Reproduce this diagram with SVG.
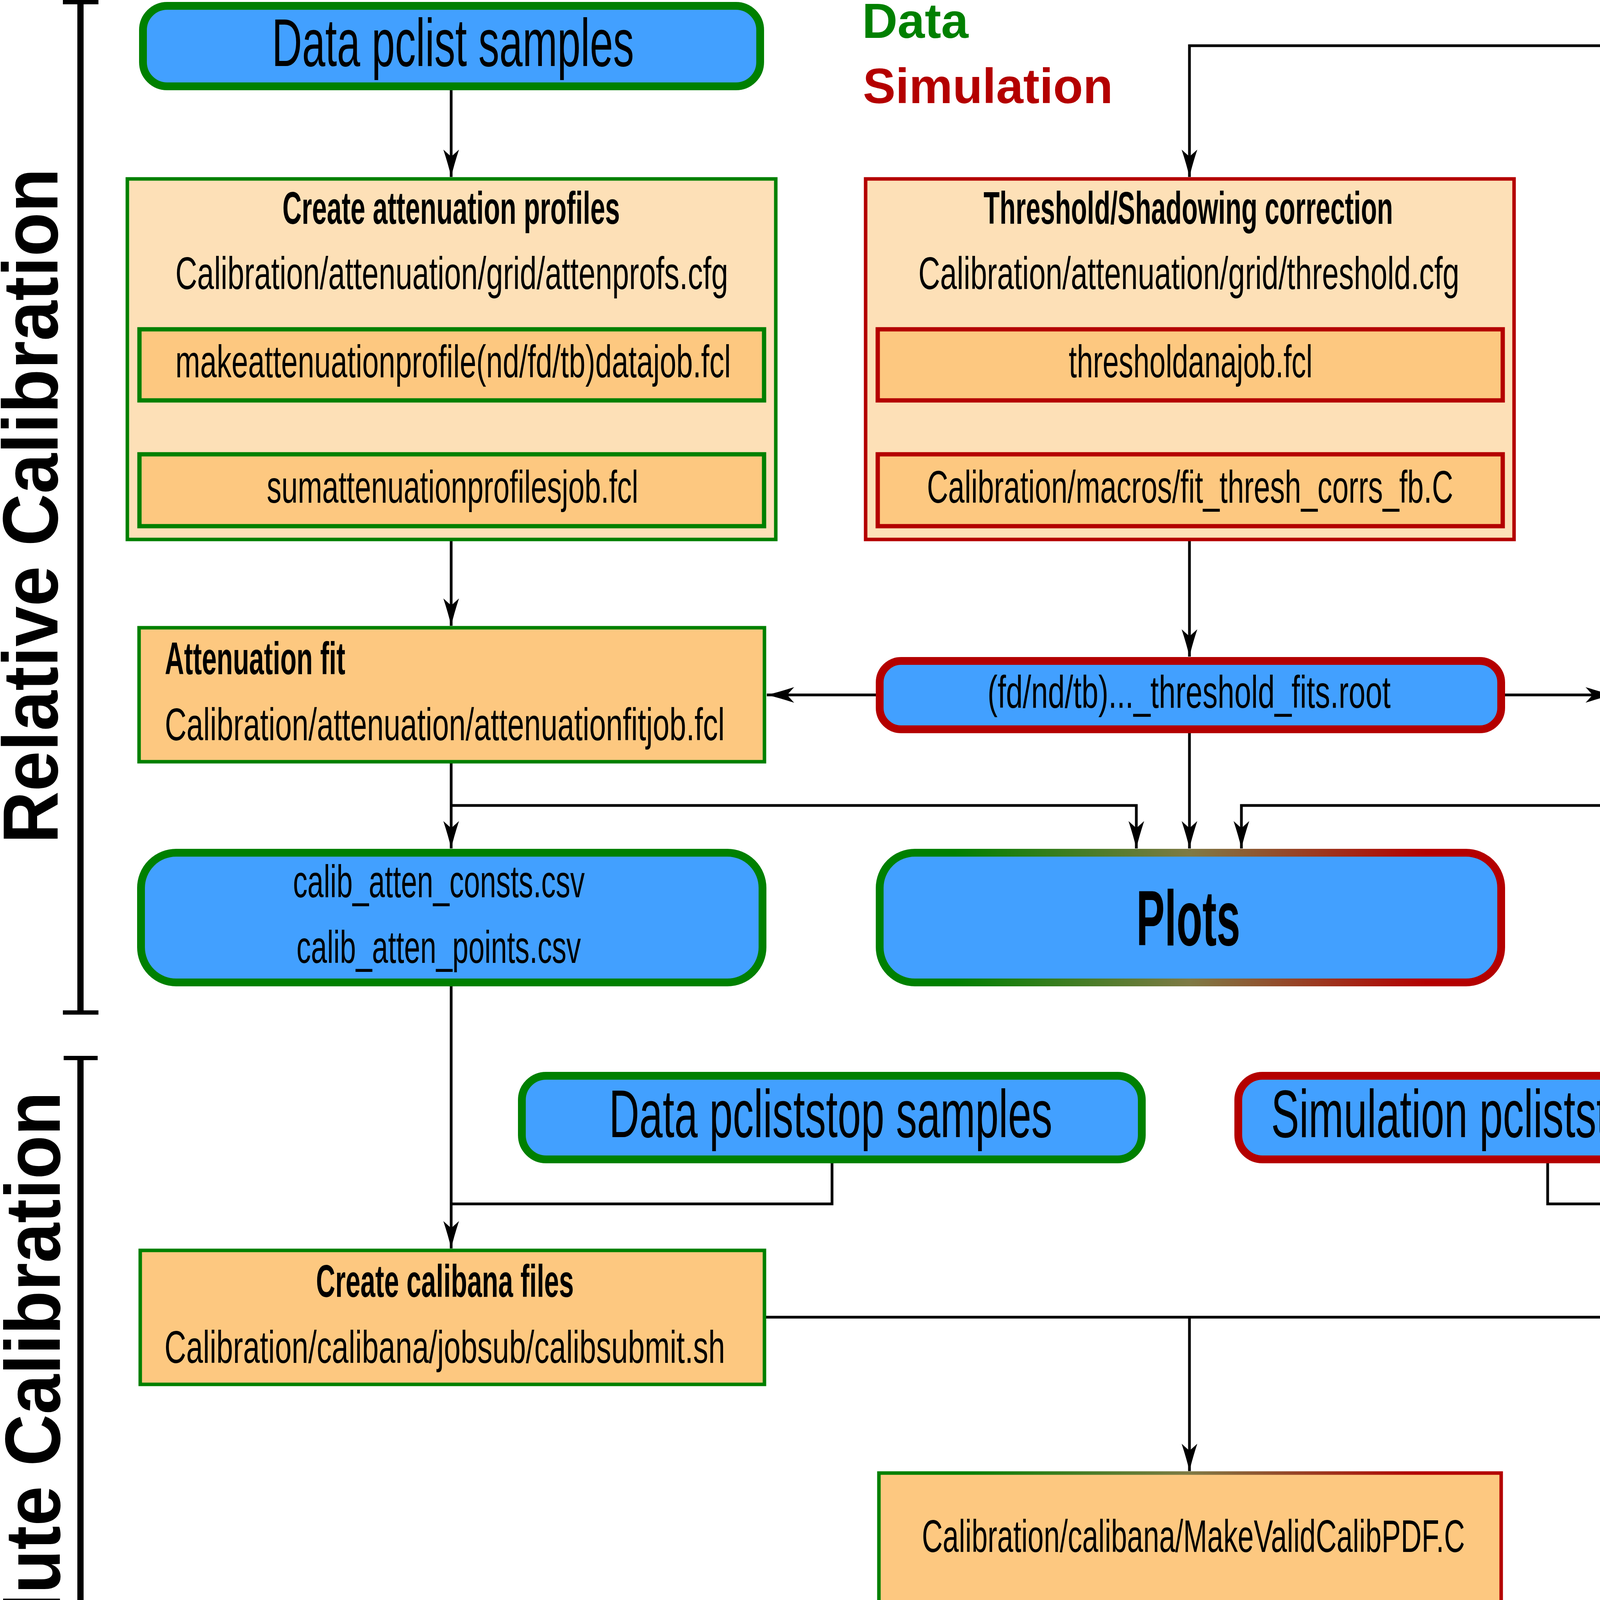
<svg xmlns="http://www.w3.org/2000/svg" width="5773" height="4693" viewBox="0 0 5773 4693">
<style>
.t{font-family:'Liberation Sans Narrow','Liberation Sans',Arial,sans-serif;fill:#000}
.big{font-size:172px}
.mid{font-size:117px}
.huge{font-size:200px;font-weight:bold}
.bb{font-weight:bold}
.conn{fill:none;stroke:#000;stroke-width:7}
.blue{fill:#42A0FF}
.pale{fill:#FDE0B7}
.orange{fill:#FDC880}
.g{stroke:#008000}
.r{stroke:#B40000}
.thick{stroke-width:20}
.thin{stroke-width:9}
.inner{stroke-width:11}
.side{font-family:'Liberation Sans',Arial,sans-serif;font-weight:bold;font-size:200px;fill:#000}
.br{stroke:#000;fill:none}
</style>
<defs>
<marker id="ah" markerUnits="userSpaceOnUse" markerWidth="80" markerHeight="50" refX="0" refY="0" viewBox="-75 -25 80 50" orient="auto">
<path d="M0,0 Q-30,7 -70,20 L-52,0 L-70,-20 Q-30,-7 0,0 Z" fill="#000"/>
</marker>
<linearGradient id="gr" x1="0" y1="0" x2="1" y2="0">
<stop offset="0.12" stop-color="#008000"/>
<stop offset="0.5" stop-color="#7f7a45"/>
<stop offset="0.88" stop-color="#B40000"/>
</linearGradient>
</defs>
<rect width="5773" height="4693" fill="#fff"/>

<g id="brackets">
<line class="br" x1="206" y1="0" x2="206" y2="2597" stroke-width="16"/>
<line class="br" x1="161" y1="5.5" x2="252" y2="5.5" stroke-width="11"/>
<line class="br" x1="161" y1="2592" x2="252" y2="2592" stroke-width="11"/>
<line class="br" x1="206" y1="2704" x2="206" y2="4693" stroke-width="16"/>
<line class="br" x1="163" y1="2708.5" x2="250" y2="2708.5" stroke-width="11"/>
<line class="br" x1="163" y1="4687" x2="250" y2="4687" stroke-width="11"/>
<text class="side" transform="translate(147,1295) rotate(-90)" text-anchor="middle" textLength="1729" lengthAdjust="spacingAndGlyphs">Relative Calibration</text>
<text class="side" transform="translate(153,3692) rotate(-90)" text-anchor="middle" textLength="1795" lengthAdjust="spacingAndGlyphs">Absolute Calibration</text>
</g>

<g id="legend">
<text x="2207" y="97" style="font-family:'Liberation Sans',Arial,sans-serif;font-weight:bold;font-size:127px;fill:#008000" textLength="272" lengthAdjust="spacingAndGlyphs">Data</text>
<text x="2209" y="264" style="font-family:'Liberation Sans',Arial,sans-serif;font-weight:bold;font-size:127px;fill:#B40000" textLength="640" lengthAdjust="spacingAndGlyphs">Simulation</text>
</g>

<g id="connectors">
<path class="conn" d="M1155,231 V453" marker-end="url(#ah)"/>
<path class="conn" d="M1155,1030 V1153" marker-end="url(#ah)"/>
<path class="conn" d="M4130,117 H3045 V453" marker-end="url(#ah)"/>
<path class="conn" d="M3045,1030 V1153" marker-end="url(#ah)"/>
<path class="conn" d="M4936,234 V453" marker-end="url(#ah)"/>
<path class="conn" d="M4936,1030 V1153" marker-end="url(#ah)"/>
<path class="conn" d="M1155,1385 V1602" marker-end="url(#ah)"/>
<path class="conn" d="M3045,1384 V1681" marker-end="url(#ah)"/>
<path class="conn" d="M4936,1384 V1602" marker-end="url(#ah)"/>
<path class="conn" d="M2242,1779 H1963" marker-end="url(#ah)"/>
<path class="conn" d="M3853,1779 H4129" marker-end="url(#ah)"/>
<path class="conn" d="M1155,1954 V2172" marker-end="url(#ah)"/>
<path class="conn" d="M1155,2062 H2909 V2172" marker-end="url(#ah)"/>
<path class="conn" d="M3045,1877 V2172" marker-end="url(#ah)"/>
<path class="conn" d="M4936,2062 H3178 V2172" marker-end="url(#ah)"/>
<path class="conn" d="M4936,1954 V2172" marker-end="url(#ah)"/>
<path class="conn" d="M1155,2525 V3196" marker-end="url(#ah)"/>
<path class="conn" d="M2130,2978 V3082 H1155"/>
<path class="conn" d="M4936,2525 V3196" marker-end="url(#ah)"/>
<path class="conn" d="M3962,2978 V3082 H4936"/>
<path class="conn" d="M1961,3372 H4131"/>
<path class="conn" d="M3045,3372 V3766" marker-end="url(#ah)"/>
<path class="conn" d="M3045,4119 V4337" marker-end="url(#ah)"/>
</g>

<g id="data-pclist">
<rect class="blue g thick" x="366" y="15" width="1580" height="206" rx="62"/>
<text class="t big" x="696" y="169" textLength="927" lengthAdjust="spacingAndGlyphs">Data pclist samples</text>
</g>

<g id="sim-pclist">
<rect class="blue r thick" x="4140" y="15" width="1591" height="209" rx="62"/>
<text class="t big" x="4336" y="169" textLength="1202" lengthAdjust="spacingAndGlyphs">Simulation pclist samples</text>
</g>

<g id="create-atten-data">
<rect class="pale g thin" x="326" y="458" width="1660" height="923"/>
<text class="t mid bb" x="723" y="573" textLength="864" lengthAdjust="spacingAndGlyphs">Create attenuation profiles</text>
<text class="t mid" x="449" y="740" textLength="1415" lengthAdjust="spacingAndGlyphs">Calibration/attenuation/grid/attenprofs.cfg</text>
</g>
<g id="make-atten-data">
<rect class="orange g inner" x="357" y="843" width="1599" height="182"/>
<text class="t mid" x="449" y="966" textLength="1422" lengthAdjust="spacingAndGlyphs">makeattenuationprofile(nd/fd/tb)datajob.fcl</text>
</g>
<g id="sum-atten-data">
<rect class="orange g inner" x="357" y="1163" width="1599" height="184"/>
<text class="t mid" x="683" y="1287" textLength="951" lengthAdjust="spacingAndGlyphs">sumattenuationprofilesjob.fcl</text>
</g>

<g id="threshold">
<rect class="pale r thin" x="2216" y="458" width="1660" height="923"/>
<text class="t mid bb" x="2518" y="573" textLength="1048" lengthAdjust="spacingAndGlyphs">Threshold/Shadowing correction</text>
<text class="t mid" x="2351" y="740" textLength="1385" lengthAdjust="spacingAndGlyphs">Calibration/attenuation/grid/threshold.cfg</text>
</g>
<g id="thresholdana">
<rect class="orange r inner" x="2247" y="843" width="1600" height="182"/>
<text class="t mid" x="2736" y="966" textLength="624" lengthAdjust="spacingAndGlyphs">thresholdanajob.fcl</text>
</g>
<g id="fit-thresh">
<rect class="orange r inner" x="2247" y="1163" width="1600" height="184"/>
<text class="t mid" x="2373" y="1287" textLength="1347" lengthAdjust="spacingAndGlyphs">Calibration/macros/fit_thresh_corrs_fb.C</text>
</g>

<g id="create-atten-sim">
<rect class="pale r thin" x="4107" y="458" width="1659" height="923"/>
<text class="t mid bb" x="4503" y="573" textLength="862" lengthAdjust="spacingAndGlyphs">Create attenuation profiles</text>
<text class="t mid" x="4226" y="740" textLength="1416" lengthAdjust="spacingAndGlyphs">Calibration/attenuation/grid/attenprofs.cfg</text>
</g>
<g id="make-atten-sim">
<rect class="orange r inner" x="4137" y="843" width="1598" height="182"/>
<text class="t mid" x="4413" y="966" textLength="1043" lengthAdjust="spacingAndGlyphs">makeattenuationprofilemcjob.fcl</text>
</g>
<g id="sum-atten-sim">
<rect class="orange r inner" x="4137" y="1163" width="1598" height="184"/>
<text class="t mid" x="4155" y="1287" textLength="1566" lengthAdjust="spacingAndGlyphs">sumattenuationprofileswithfiberbrightnessjob.fcl</text>
</g>

<g id="atten-fit-data">
<rect class="orange g thin" x="356" y="1607" width="1601" height="343"/>
<text class="t mid bb" x="422" y="1726" textLength="462" lengthAdjust="spacingAndGlyphs">Attenuation fit</text>
<text class="t mid" x="422" y="1895" textLength="1433" lengthAdjust="spacingAndGlyphs">Calibration/attenuation/attenuationfitjob.fcl</text>
</g>

<g id="threshold-fits">
<rect class="blue r thick" x="2252" y="1692" width="1591" height="175" rx="55"/>
<text class="t mid" x="2528" y="1812" textLength="1032" lengthAdjust="spacingAndGlyphs">(fd/nd/tb)..._threshold_fits.root</text>
</g>

<g id="atten-fit-sim">
<rect class="orange r thin" x="4135" y="1607" width="1601" height="343"/>
<text class="t mid bb" x="4707" y="1726" textLength="460" lengthAdjust="spacingAndGlyphs">Attenuation fit</text>
<text class="t mid" x="4220" y="1895" textLength="1433" lengthAdjust="spacingAndGlyphs">Calibration/attenuation/attenuationfitjob.fcl</text>
</g>

<g id="csv-data">
<rect class="blue g thick" x="361" y="2183" width="1591" height="332" rx="90"/>
<text class="t mid" x="750" y="2297" textLength="747" lengthAdjust="spacingAndGlyphs">calib_atten_consts.csv</text>
<text class="t mid" x="759" y="2465" textLength="728" lengthAdjust="spacingAndGlyphs">calib_atten_points.csv</text>
</g>

<g id="plots">
<rect class="blue thick" stroke="url(#gr)" x="2252" y="2183" width="1591" height="332" rx="90"/>
<text class="t huge" x="2909" y="2420" textLength="266" lengthAdjust="spacingAndGlyphs">Plots</text>
</g>

<g id="csv-sim">
<rect class="blue r thick" x="4140" y="2183" width="1591" height="332" rx="90"/>
<text class="t mid" x="4330" y="2297" textLength="1210" lengthAdjust="spacingAndGlyphs">calib_atten_consts_mc_fb(0..11).csv</text>
<text class="t mid" x="4339" y="2465" textLength="1193" lengthAdjust="spacingAndGlyphs">calib_atten_points_mc_fb(0..11).csv</text>
</g>

<g id="data-pcliststop">
<rect class="blue g thick" x="1336" y="2754" width="1587" height="214" rx="62"/>
<text class="t big" x="1559" y="2911" textLength="1135" lengthAdjust="spacingAndGlyphs">Data pcliststop samples</text>
</g>

<g id="sim-pcliststop">
<rect class="blue r thick" x="3170" y="2754" width="1585" height="214" rx="62"/>
<text class="t big" x="3254" y="2911" textLength="1414" lengthAdjust="spacingAndGlyphs">Simulation pcliststop samples</text>
</g>

<g id="calibana-data">
<rect class="orange g thin" x="359" y="3201" width="1598" height="343"/>
<text class="t mid bb" x="809" y="3320" textLength="660" lengthAdjust="spacingAndGlyphs">Create calibana files</text>
<text class="t mid" x="421" y="3489" textLength="1435" lengthAdjust="spacingAndGlyphs">Calibration/calibana/jobsub/calibsubmit.sh</text>
</g>

<g id="calibana-sim">
<rect class="orange g thin" x="4136" y="3201" width="1599" height="343"/>
<text class="t mid bb" x="4608" y="3320" textLength="659" lengthAdjust="spacingAndGlyphs">Create calibana files</text>
<text class="t mid" x="4219" y="3489" textLength="1435" lengthAdjust="spacingAndGlyphs">Calibration/calibana/jobsub/calibsubmit.sh</text>
</g>

<g id="makevalid">
<rect class="orange thin" stroke="url(#gr)" x="2250" y="3771" width="1593" height="344"/>
<text class="t mid" x="2360" y="3973" textLength="1390" lengthAdjust="spacingAndGlyphs">Calibration/calibana/MakeValidCalibPDF.C</text>
</g>

<g id="bigpdf">
<rect class="blue thick" stroke="url(#gr)" x="2255" y="4348" width="1582" height="333" rx="90"/>
<text class="t huge" x="2717" y="4586" textLength="683" lengthAdjust="spacingAndGlyphs">The Big PDF</text>
</g>
</svg>
